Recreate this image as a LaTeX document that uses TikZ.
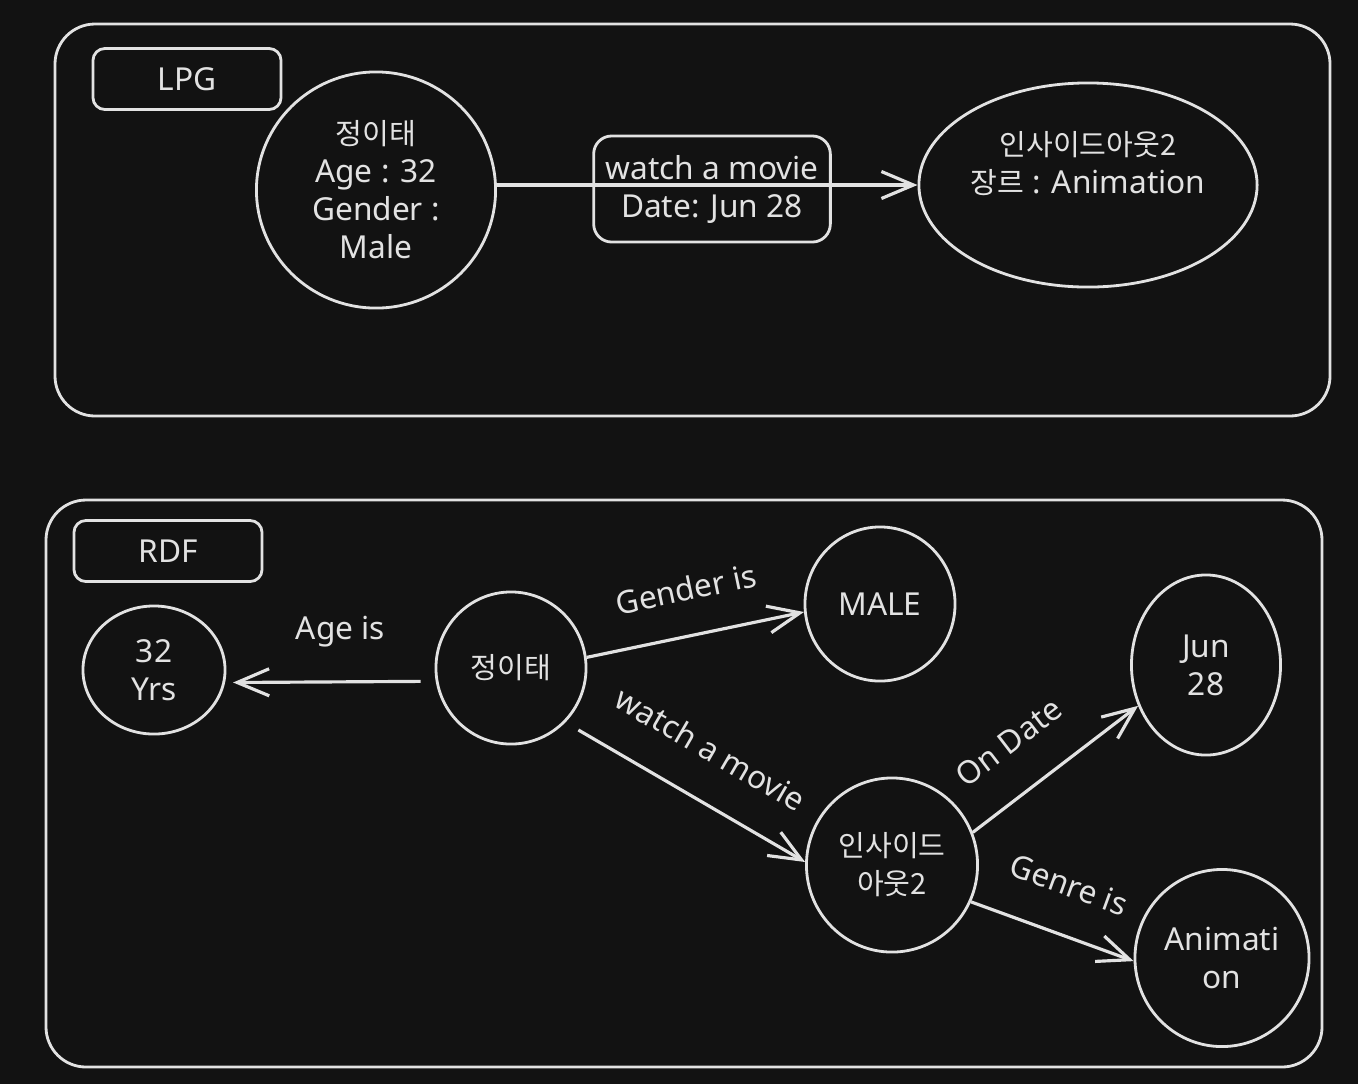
\documentclass[tikz,border=0pt]{standalone}
\usepackage{fontspec}
\setmainfont{Noto Sans}
\newfontfamily\kr[Scale=0.92]{Noto Sans CJK KR}
\usepackage{tikz}
\usetikzlibrary{arrows.meta, positioning, shapes.geometric}

\definecolor{bgcol}{HTML}{121212}
\definecolor{ink}{HTML}{E2E2E2}

\tikzset{
  frame/.style={draw=ink, line width=0.8pt, rounded corners=0.4cm},
  tag/.style={draw=ink, line width=0.8pt, rounded corners=0.12cm,
    minimum width=1.88cm, minimum height=0.61cm},
  ent/.style={ellipse, draw=ink, line width=0.8pt, align=center, inner sep=0pt},
  rel/.style={draw=ink, line width=0.9pt,
    -{Straight Barb[length=0.32cm, width=0.27cm]}},
}

\begin{document}
\begin{tikzpicture}[x=0.01cm, y=-0.01cm, color=ink,
    font=\fontsize{9}{10.8}\selectfont]
  \useasboundingbox (0,0) rectangle (1358,1084);
  \fill[bgcol] (0,0) rectangle (1358,1084);

  % LPG part
  \draw[frame] (55,24) rectangle (1330,416);
  \node[tag] (lpg) at (187,79) {LPG};
  \node[ent, minimum width=2.39cm, minimum height=2.36cm] (p1) at (376,190)
    {{\kr 정이태}\\Age : 32\\Gender :\\Male};
  \node[ent, minimum width=3.38cm, minimum height=2.04cm] (m1) at (1088,185) {};
  \node[align=center] (m1txt) at (1088,164)
    {{\kr 인사이드아웃2}\\{\kr 장르} : Animation};
  \draw[rel] (p1.east |- m1.west) -- (m1.west);
  \node[draw=ink, line width=0.8pt, rounded corners=0.18cm, align=center,
    minimum width=2.36cm, minimum height=1.06cm] (watch) at (712,189)
    {watch a movie\\Date: Jun 28};

  % RDF part
  \draw[frame] (46,500) rectangle (1322,1067);
  \node[tag] (rdf) at (168,551) {RDF};
  \node[ent, minimum width=1.42cm, minimum height=1.28cm] (yrs) at (154,670) {32\\Yrs};
  \node[ent, minimum width=1.5cm, minimum height=1.52cm] (p2) at (511,668) {{\kr 정이태}};
  \node[ent, minimum width=1.5cm, minimum height=1.54cm] (male) at (880,604) {MALE};
  \node[ent, minimum width=1.49cm, minimum height=1.8cm] (jun) at (1206,665) {Jun\\28};
  \node[ent, minimum width=1.71cm, minimum height=1.74cm] (film) at (892,865)
    {{\kr 인사이드}\\{\kr 아웃2}};
  \node[ent, minimum width=1.74cm, minimum height=1.77cm] (anim) at (1222,958)
    {Animati\\on};

  % triples
  \draw[rel, shorten <=0.15cm, shorten >=0.08cm] (p2.190) -- node[above=6pt, xshift=0.1cm] {Age is} (yrs.-10);
  \draw[rel] (p2.8) -- node[sloped, above=6pt] {Gender is} (male.186);
  \draw[rel, shorten <=0.15cm] (p2.-45) -- node[sloped, above=7pt] {watch a movie} (film.178);
  \draw[rel] (film.22) -- node[sloped, above=7pt, pos=0.4] {On Date} (jun.211);
  \draw[rel] (film.-25) -- node[sloped, above=7pt] {Genre is} (anim.182);
\end{tikzpicture}
\end{document}
